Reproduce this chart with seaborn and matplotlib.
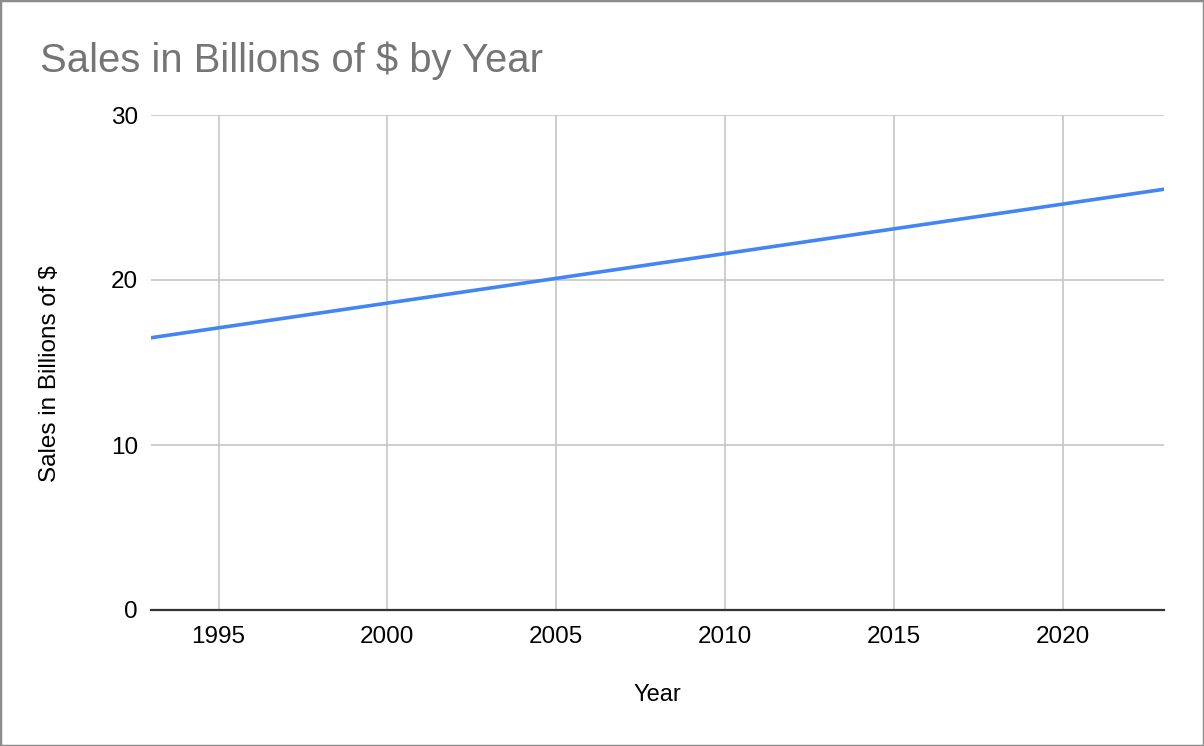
import matplotlib
matplotlib.use("Agg")
import matplotlib.pyplot as plt
import seaborn as sns
import pandas as pd
from matplotlib.patches import Rectangle

# values at the gridlines and the plot edges
years = [1993, 1995, 2000, 2005, 2010, 2015, 2020, 2023]
sales = [16.5, 17.1, 18.6, 20.1, 21.6, 23.1, 24.6, 25.5]
x_ticks = [1995, 2000, 2005, 2010, 2015, 2020]
y_ticks = [0, 10, 20, 30]

df = pd.DataFrame({"Year": years, "Sales": sales})

sns.set_theme(style="white")
plt.rcParams["font.family"] = ["Liberation Sans", "DejaVu Sans"]

fig = plt.figure(figsize=(12.04, 7.46), dpi=100)
ax = fig.add_axes([151 / 1204, 1 - 610 / 746, 1013 / 1204, 495 / 746])

sns.lineplot(data=df, x="Year", y="Sales", ax=ax, color="#4285f4",
             linewidth=2.6, zorder=3)

ax.set_xlim(1993, 2023)
ax.set_ylim(0, 30)
ax.set_xticks(x_ticks)
ax.set_yticks(y_ticks)
ax.grid(True, color="#c6c6c6", linewidth=1.2)
ax.set_axisbelow(True)

for side in ["top", "right", "left"]:
    ax.spines[side].set_visible(False)
ax.spines["bottom"].set_color("#333333")
ax.spines["bottom"].set_linewidth(1.6)
ax.spines["bottom"].set_zorder(4)

ax.tick_params(axis="both", length=0, labelsize=17.5, colors="#000000")
ax.tick_params(axis="x", pad=11.5)
ax.tick_params(axis="y", pad=9.5)

ax.set_xlabel("Year", fontsize=17, color="#000000")
ax.xaxis.set_label_coords(0.5, -(695 - 610) / 495)
ax.xaxis.label.set_va("center")
ax.set_ylabel("Sales in Billions of $", fontsize=17.5, color="#000000")
ax.yaxis.set_label_coords((50 - 151) / 1013, 0.477)
ax.yaxis.label.set_va("center")

fig.text(40 / 1204, 1 - 72 / 746, "Sales in Billions of $ by Year",
         fontsize=28.8, color="#757575", ha="left", va="baseline")

fig.patches.append(Rectangle((0, 0), 1, 1, transform=fig.transFigure,
                             fill=False, edgecolor="#8c8c8c", linewidth=2.5))

fig.savefig("out.png", dpi=100, facecolor="white")
